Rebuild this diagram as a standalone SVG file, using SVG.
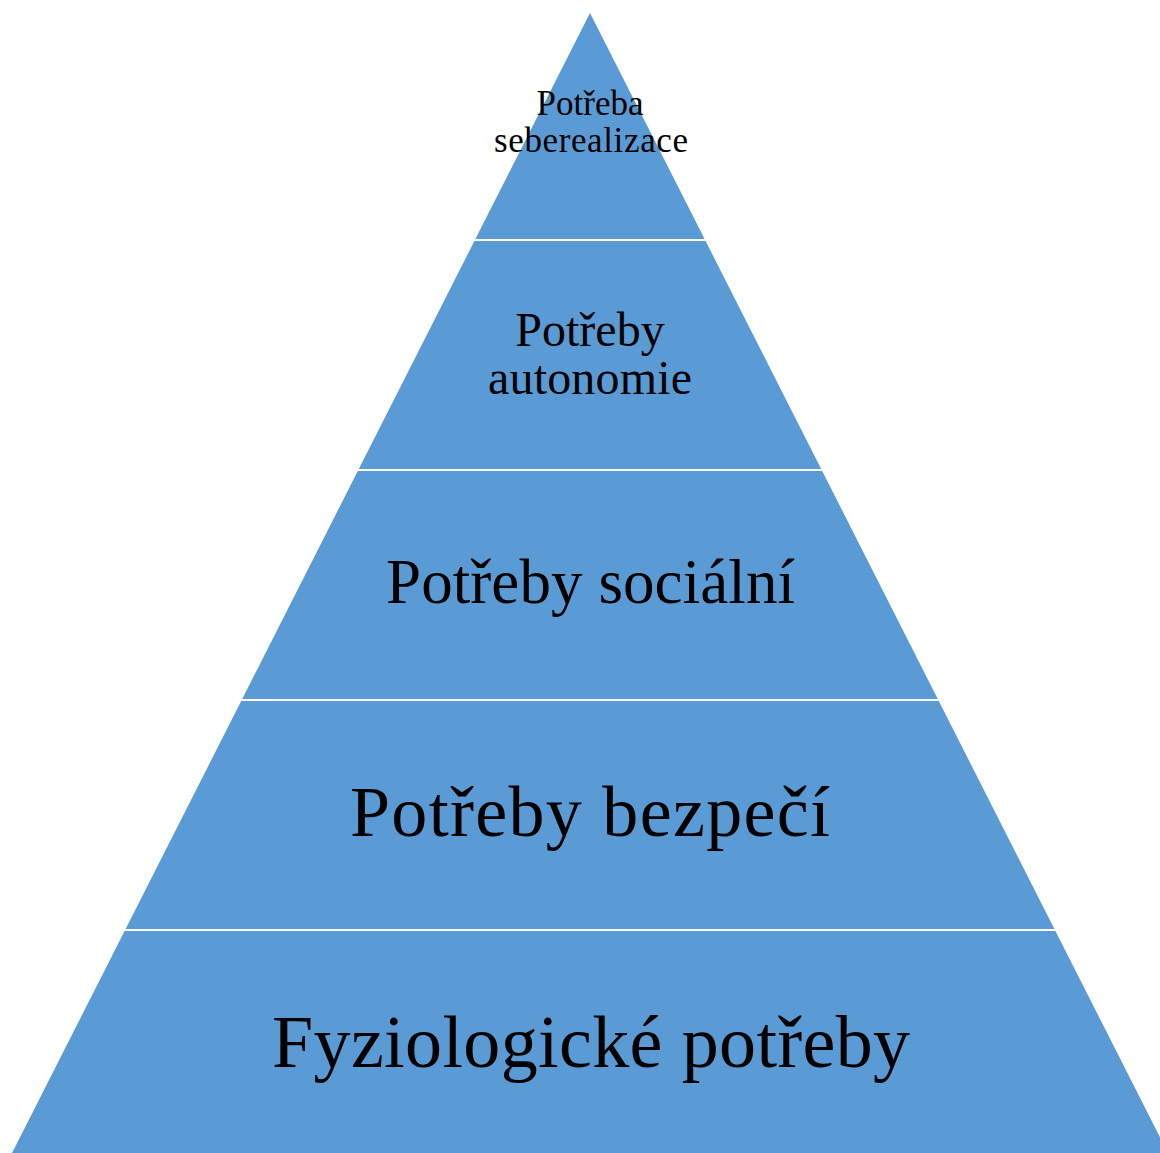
<svg xmlns="http://www.w3.org/2000/svg" width="1160" height="1153" viewBox="0 0 1160 1153">
<style>
.lvl{fill:#5B9BD5;stroke:none}
.t{font-family:"Liberation Serif","Times New Roman",serif;fill:#000;text-anchor:middle}
</style>
<rect width="1160" height="1153" fill="#ffffff"/>
<g id="level-5">
<polygon class="lvl" points="124.6,931 1055.4,931 1168,1153 12,1153"/>
<text class="t" x="591" y="1067" font-size="74" textLength="638">Fyziologické potřeby</text>
</g>
<g id="level-4">
<polygon class="lvl" points="241.2,701 938.8,701 1054.4,929 125.6,929"/>
<text class="t" x="590" y="836" font-size="72" textLength="480">Potřeby bezpečí</text>
</g>
<g id="level-3">
<polygon class="lvl" points="357.8,471 822.2,471 937.8,699 242.2,699"/>
<text class="t" x="590.5" y="603" font-size="63" textLength="409">Potřeby sociální</text>
</g>
<g id="level-2">
<polygon class="lvl" points="474.4,241 705.6,241 821.2,469 358.8,469"/>
<text class="t" font-size="48"><tspan x="590" y="346">Potřeby</tspan><tspan x="590" y="394" textLength="204">autonomie</tspan></text>
</g>
<g id="level-1">
<polygon class="lvl" points="590,13 704.6,239 475.4,239"/>
<text class="t" font-size="35"><tspan x="590" y="115">Potřeba</tspan><tspan x="591" y="152" textLength="194">seberealizace</tspan></text>
</g>
<g id="connectors"></g>
</svg>
